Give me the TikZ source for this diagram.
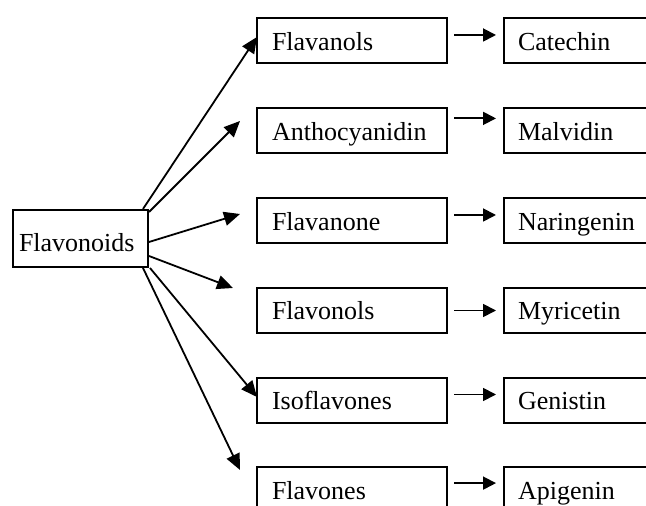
\documentclass[tikz,border=0pt]{standalone}
\usepackage{fontspec}
\setmainfont{Liberation Serif}
\usetikzlibrary{arrows.meta,calc}
\begin{document}
\begin{tikzpicture}[x=0.5pt,y=-0.5pt,
  every node/.style={font=\fontsize{13pt}{15pt}\selectfont},
  lbox/.style={draw, line width=1pt, minimum width=95pt, minimum height=22.5pt, text width=80pt, inner xsep=7.5pt, inner ysep=0pt, align=left, text height=9.5pt, text depth=0pt},
  rbox/.style={lbox, minimum width=80pt, text width=66pt, inner xsep=7pt},
  root/.style={draw, line width=1pt, minimum width=67.5pt, minimum height=28.5pt, text width=61.5pt, inner xsep=3pt, inner ysep=0pt, align=left, text height=13.5pt, text depth=0pt},
  arr/.style={line width=0.9pt, -{Triangle[length=8pt,width=7pt]}},
  sarr/.style={line width=0.9pt, -{Triangle[length=6.5pt,width=6.5pt]}, shorten <=3pt, shorten >=3.5pt}]
\useasboundingbox (0,0) rectangle (646,506);
\clip (0,0) rectangle (646,506);

\node[root] (fl) at (80.5,238.5) {Flavonoids};

\node[lbox] (l1) at (352,41) {Flavanols};
\node[lbox] (l2) at (352,131) {Anthocyanidin};
\node[lbox] (l3) at (352,221) {Flavanone};
\node[lbox] (l4) at (352,310.5) {Flavonols};
\node[lbox] (l5) at (352,400.5) {Isoflavones};
\node[lbox] (l6) at (352,489.5) {Flavones};

\node[rbox] (r1) at (584,41) {Catechin};
\node[rbox] (r2) at (584,131) {Malvidin};
\node[rbox] (r3) at (584,221) {Naringenin};
\node[rbox] (r4) at (584,310.5) {Myricetin};
\node[rbox] (r5) at (584,400.5) {Genistin};
\node[rbox] (r6) at (584,489.5) {Apigenin};

\draw[sarr] ([yshift=3pt]l1.east) -- ([yshift=3pt]r1.west);
\draw[sarr] ([yshift=6.3pt]l2.east) -- ([yshift=6.3pt]r2.west);
\draw[sarr] ([yshift=3pt]l3.east) -- ([yshift=3pt]r3.west);
\draw[sarr] (l4.east) -- (r4.west);
\draw[sarr] ([yshift=3pt]l5.east) -- ([yshift=3pt]r5.west);
\draw[sarr] ([yshift=3.2pt]l6.east) -- ([yshift=3.2pt]r6.west);

\coordinate (t1) at (257,37);
\coordinate (t2) at (240,121);
\coordinate (t3) at (240,214);
\coordinate (t4) at (233,288);
\coordinate (t5) at (257,397);
\coordinate (t6) at (240,470);

\draw[arr] ($(fl.north east)+(-6,0)$) -- (t1);
\draw[arr] ($(fl.north east)+(0,3)$) -- (t2);
\draw[arr] ($(fl.east)+(0,3.5)$) -- (t3);
\draw[arr] ($(fl.east)+(0,17.5)$) -- (t4);
\draw[arr] ($(fl.south east)+(1,0)$) -- (t5);
\draw[arr] ($(fl.south east)+(-6,0)$) -- (t6);
\end{tikzpicture}
\end{document}
